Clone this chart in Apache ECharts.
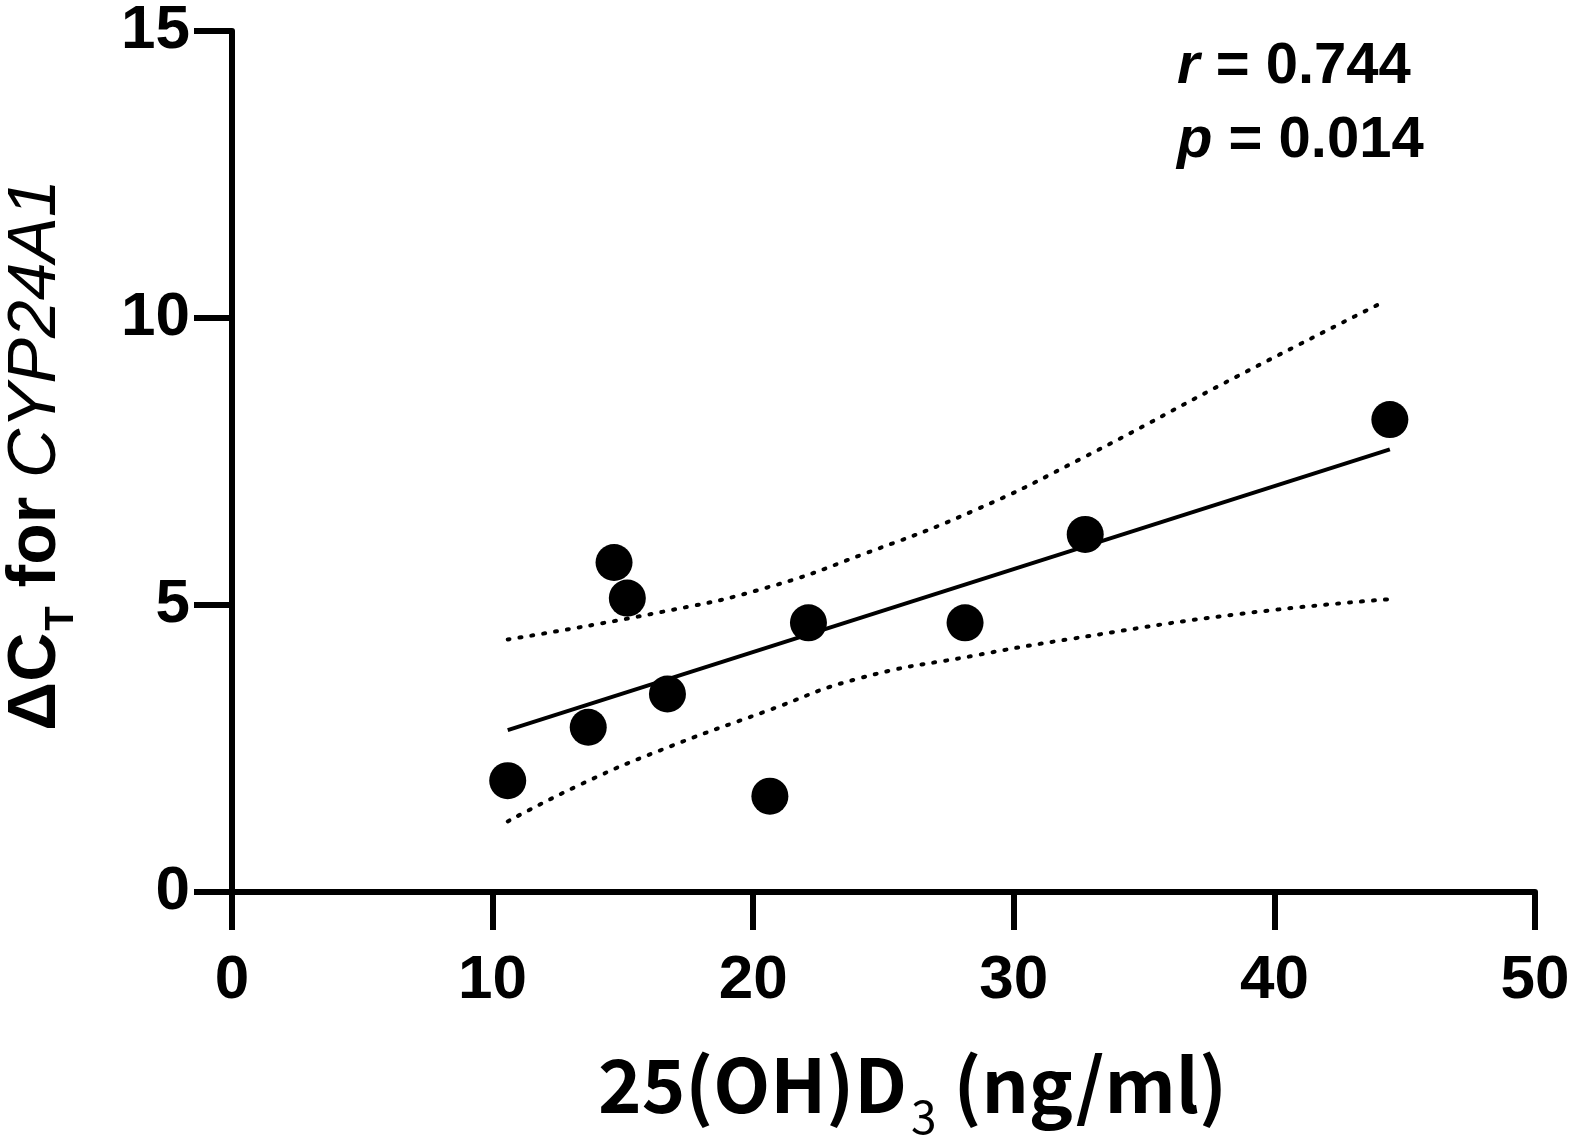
<!DOCTYPE html>
<html>
<head>
<meta charset="utf-8">
<script src="https://cdn.jsdelivr.net/npm/echarts@6/dist/echarts.min.js"></script>
<style>
html,body{margin:0;padding:0;background:#fff;}
#chart{width:1575px;height:1143px;}
</style>
</head>
<body>
<div id="chart"></div>
<script>
// Data
const xTicks = [0, 10, 20, 30, 40, 50];
const yTicks = [0, 5, 10, 15];
const vitD = [10.58, 13.67, 14.66, 15.17, 16.71, 20.64, 22.12, 28.13, 32.74, 44.43];
const deltaCt = [1.94, 2.87, 5.74, 5.12, 3.45, 1.67, 4.69, 4.69, 6.23, 8.23];
const fitX = [10.58, 44.43];
const fitY = [2.82, 7.71];
const upperX = [10.58, 16.5, 20.5, 24.25, 28.5, 32.5, 38.6, 44.1];
const upperY = [4.40, 4.88, 5.30, 5.89, 6.65, 7.53, 8.99, 10.26];
const lowerX = [10.58, 13.5, 16.5, 20.5, 24.05, 28.5, 32.2, 38.6, 44.4];
const lowerY = [1.23, 1.90, 2.48, 3.15, 3.72, 4.12, 4.41, 4.84, 5.10];
const statR = '0.744';
const statP = '0.014';

const zip = (a, b) => a.map((v, i) => [v, b[i]]);

const chart = echarts.init(document.getElementById('chart'));
const axisFont = {fontFamily: 'Liberation Sans', fontWeight: 'bold', fontSize: 62, color: '#000'};
chart.setOption({
  animation: false,
  backgroundColor: '#fff',
  grid: {left: 232, right: 40, top: 22, bottom: 251},
  xAxis: {
    type: 'value', min: 0, max: 50, interval: 10,
    axisLine: {show: true, onZero: false, lineStyle: {color: '#000', width: 6}},
    axisTick: {show: true, length: 38, lineStyle: {color: '#000', width: 6}},
    splitLine: {show: false},
    axisLabel: Object.assign({margin: 58}, axisFont)
  },
  yAxis: {
    type: 'value', min: 0, max: 15, interval: 5,
    axisLine: {show: true, onZero: false, lineStyle: {color: '#000', width: 6}},
    axisTick: {show: true, length: 38, lineStyle: {color: '#000', width: 6}},
    splitLine: {show: false},
    axisLabel: Object.assign({margin: 42}, axisFont)
  },
  series: [
    {
      type: 'line', data: zip(upperX, upperY), smooth: true, symbol: 'none',
      lineStyle: {color: '#000', width: 4, type: [2, 10], cap: 'round'}
    },
    {
      type: 'line', data: zip(lowerX, lowerY), smooth: true, symbol: 'none',
      lineStyle: {color: '#000', width: 4, type: [2, 10], cap: 'round'}
    },
    {
      type: 'line', data: zip(fitX, fitY), symbol: 'none',
      lineStyle: {color: '#000', width: 4}
    },
    {
      type: 'scatter', data: zip(vitD, deltaCt), symbol: 'circle', symbolSize: 37,
      itemStyle: {color: '#000', opacity: 1}, z: 5
    }
  ],
  graphic: [
    {
      type: 'text', left: 598, top: 1048,
      style: {
        text: '{m|25(OH)D}{s|3}{m| (ng/ml)}',
        rich: {
          m: {fontFamily: 'Noto Sans CJK KR', fontWeight: 'bold', fontSize: 74, fill: '#000', lineHeight: 90, verticalAlign: 'top'},
          s: {fontFamily: 'Noto Sans CJK KR', fontWeight: 'normal', fontSize: 46, fill: '#000', verticalAlign: 'top', padding: [46, 0, 0, 4], lineHeight: 90}
        }
      }
    },
    {
      type: 'text', x: 2, y: 455, rotation: Math.PI / 2,
      style: {
        text: '{m|ΔC}{s|T}{m| for }{i|CYP24A1}',
        align: 'center', verticalAlign: 'top',
        rich: {
          m: {fontFamily: 'Liberation Sans', fontWeight: 'bold', fontSize: 68, fill: '#000', lineHeight: 76, verticalAlign: 'top'},
          s: {fontFamily: 'Liberation Sans', fontWeight: 'bold', fontSize: 40, fill: '#000', verticalAlign: 'top', padding: [40, 0, 0, 2], lineHeight: 76},
          i: {fontFamily: 'Liberation Sans', fontStyle: 'italic', fontWeight: 'normal', fontSize: 68, fill: '#000', lineHeight: 76, verticalAlign: 'top'}
        }
      }
    },
    {
      type: 'text', left: 1177, top: 38,
      style: {
        text: '{i|r}{b| = ' + statR + '}',
        rich: {
          i: {fontFamily: 'Liberation Sans', fontStyle: 'italic', fontWeight: 'bold', fontSize: 58, fill: '#000'},
          b: {fontFamily: 'Liberation Sans', fontWeight: 'bold', fontSize: 58, fill: '#000'}
        }
      }
    },
    {
      type: 'text', left: 1177, top: 112,
      style: {
        text: '{i|p}{b| = ' + statP + '}',
        rich: {
          i: {fontFamily: 'Liberation Sans', fontStyle: 'italic', fontWeight: 'bold', fontSize: 58, fill: '#000'},
          b: {fontFamily: 'Liberation Sans', fontWeight: 'bold', fontSize: 58, fill: '#000'}
        }
      }
    }
  ]
});
</script>
</body>
</html>
